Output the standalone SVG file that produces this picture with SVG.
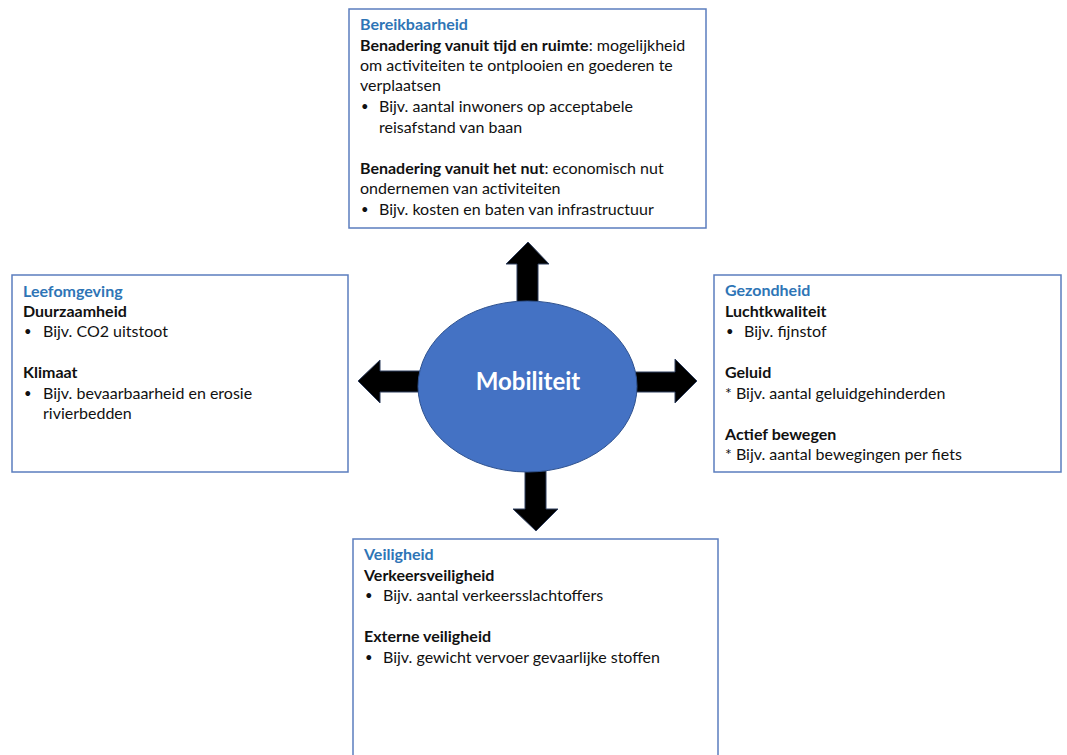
<svg xmlns="http://www.w3.org/2000/svg" width="1067" height="755" viewBox="0 0 1067 755">
<style>
.box{fill:#fff;stroke:#5B7DBE;stroke-width:1.5}
text{font-family:Lato,"Liberation Sans",sans-serif;font-size:16px;fill:#111}
.t{fill:#2E75B6;font-weight:bold}
.b{font-weight:bold}
.d{font-size:13px}
.arr{fill:#000;stroke:#2F3F5F;stroke-width:1}
.c{fill:#fff;font-weight:bold;font-size:24px}
</style>
<rect width="1067" height="755" fill="#fff"/>
<g id="connectors">
<polygon class="arr" points="517,302 517,264 506,264 528,242 549,264 538,264 538,302"/>
<polygon class="arr" points="420,371 380,371 380,360 358,381 380,403 380,392 420,392"/>
<polygon class="arr" points="635,372 675,372 675,359 697,381 675,403 675,392 635,392"/>
<polygon class="arr" points="525,471 525,509 513,509 536,531 558,509 546,509 546,471"/>
</g>
<g id="mobiliteit">
<ellipse cx="527.5" cy="386.5" rx="109.5" ry="85.5" fill="#4472C4" stroke="#2F528F" stroke-width="1"/>
<text class="c" x="528" y="390" text-anchor="middle">Mobiliteit</text>
</g>
<g id="bereikbaarheid">
<rect class="box" x="349" y="9" width="357" height="219"/>
<text class="t" x="360" y="30">Bereikbaarheid</text>
<text x="360" y="51"><tspan class="b">Benadering vanuit tijd en ruimte</tspan>: mogelijkheid</text>
<text x="360" y="71">om activiteiten te ontplooien en goederen te</text>
<text x="360" y="91">verplaatsen</text>
<text class="d" x="361" y="111">•</text><text x="379" y="112">Bijv. aantal inwoners op acceptabele</text>
<text x="379" y="133">reisafstand van baan</text>
<text x="360" y="174"><tspan class="b">Benadering vanuit het nut</tspan>: economisch nut</text>
<text x="360" y="194">ondernemen van activiteiten</text>
<text class="d" x="361" y="214">•</text><text x="379" y="215">Bijv. kosten en baten van infrastructuur</text>
</g>
<g id="leefomgeving">
<rect class="box" x="12" y="275" width="336" height="197"/>
<text class="t" x="23" y="297">Leefomgeving</text>
<text class="b" x="23" y="317">Duurzaamheid</text>
<text class="d" x="24" y="336">•</text><text x="43" y="337">Bijv. CO2 uitstoot</text>
<text class="b" x="23" y="378">Klimaat</text>
<text class="d" x="24" y="398">•</text><text x="43" y="399">Bijv. bevaarbaarheid en erosie</text>
<text x="43" y="419">rivierbedden</text>
</g>
<g id="gezondheid">
<rect class="box" x="714" y="275" width="347" height="197"/>
<text class="t" x="725" y="296">Gezondheid</text>
<text class="b" x="725" y="317">Luchtkwaliteit</text>
<text class="d" x="726" y="336">•</text><text x="744" y="337">Bijv. fijnstof</text>
<text class="b" x="725" y="378">Geluid</text>
<text x="725" y="399">* Bijv. aantal geluidgehinderden</text>
<text class="b" x="725" y="440">Actief bewegen</text>
<text x="725" y="460">* Bijv. aantal bewegingen per fiets</text>
</g>
<g id="veiligheid">
<rect class="box" x="353" y="539" width="365" height="230"/>
<text class="t" x="364" y="560">Veiligheid</text>
<text class="b" x="364" y="581">Verkeersveiligheid</text>
<text class="d" x="365" y="600">•</text><text x="383" y="601">Bijv. aantal verkeersslachtoffers</text>
<text class="b" x="364" y="642">Externe veiligheid</text>
<text class="d" x="365" y="662">•</text><text x="383" y="663">Bijv. gewicht vervoer gevaarlijke stoffen</text>
</g>
</svg>
